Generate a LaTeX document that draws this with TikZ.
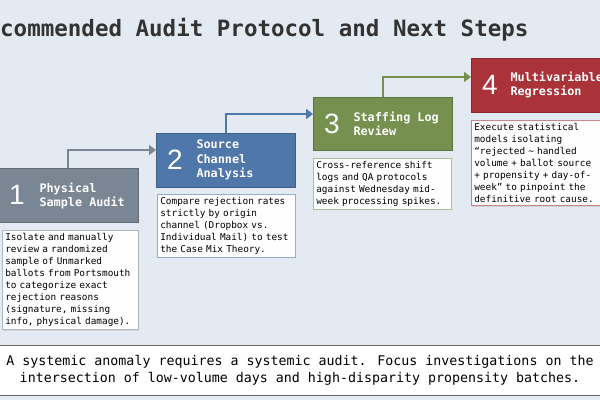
\documentclass[tikz,border=0pt]{standalone}
\usepackage{fontspec}
\setmainfont{DejaVu Sans Mono}
\newfontfamily\digitfont{Liberation Sans}
\usetikzlibrary{shadows,arrows.meta}
\definecolor{bg}{HTML}{E4EAF1}
\definecolor{cgray}{HTML}{7A8693}
\definecolor{cblue}{HTML}{4F77AA}
\definecolor{cgreen}{HTML}{76914F}
\definecolor{cred}{HTML}{A93339}
\begin{document}
\begin{tikzpicture}[x=1pt,y=1pt,
  head/.style={draw=#1!80!black,fill=#1,line width=0.6pt,drop shadow={opacity=0.25,shadow xshift=1pt,shadow yshift=-1pt}},
  desc/.style={draw=#1,line width=0.6pt,fill=white!96!bg,anchor=north west,align=left,inner sep=3pt,font=\fontsize{9.4}{12}\selectfont,drop shadow={opacity=0.2,shadow xshift=1pt,shadow yshift=-1pt}},
  htxt/.style={text=white!92!bg,anchor=west,align=left,font=\bfseries\fontsize{11.8}{14.5}\selectfont},
  dig/.style={text=white!85!bg,anchor=center,font=\digitfont\fontsize{28}{28}\selectfont},
  conn/.style={draw=#1,line width=2pt,-{Triangle[length=7pt,width=10pt]}}]
\useasboundingbox (0,0) rectangle (600,400);
\fill[bg] (0,0) rectangle (600,400);
\node[anchor=west,inner sep=0pt,font=\fontsize{22.5}{24}\selectfont,text=black!80] (title) at (0,370) {\textbf{commended Audit Protocol and Next Steps}};
% headers
\node[head=cgray,minimum width=140,minimum height=54,anchor=north west] (h1) at (-2,232) {};
\node[head=cblue,minimum width=139,minimum height=54,anchor=north west] (h2) at (156,267) {};
\node[head=cgreen,minimum width=139,minimum height=53,anchor=north west] (h3) at (313,303) {};
\node[head=cred,minimum width=135,minimum height=54,anchor=north west] (h4) at (471,342) {};
\node[dig] (d1) at (17,205) {1};
\node[dig] (d2) at (175,240) {2};
\node[dig] (d3) at (332,276) {3};
\node[dig] (d4) at (490,315) {4};
\node[htxt] (t1) at (36,204) {Physical\\Sample Audit};
\node[htxt] (t2) at (193,240) {Source\\Channel\\Analysis};
\node[htxt] (t3) at (350,276) {Staffing Log\\Review};
\node[htxt] (t4) at (507,315) {Multivariable\\Regression};
% descriptions
\node[desc=cgray!60,text width=130] (p1) at (2,170) {Isolate and manually\\review a randomized\\sample of Unmarked\\ballots from Portsmouth\\to categorize exact\\rejection reasons\\(signature, missing\\info, physical damage).};
\node[desc=cblue!60,text width=132] (p2) at (157,206) {Compare rejection rates\\strictly by origin\\channel (Dropbox vs.\\Individual Mail) to test\\the Case Mix Theory.};
\node[desc=cgreen!60,text width=132] (p3) at (313,242) {Cross-reference shift\\logs and QA protocols\\against Wednesday mid-\\week processing spikes.};
\node[desc=cred!60,text width=132] (p4) at (471,280) {Execute statistical\\models isolating\\“rejected \textasciitilde{} handled\\volume + ballot source\\+ propensity + day-of-\\week” to pinpoint the\\definitive root cause.};
% connectors
\coordinate (c1) at (68,250);
\coordinate (c2) at (226,286);
\coordinate (c3) at (383,323);
\draw[conn=cgray] (h1.north -| c1) |- (h2.west |- c1);
\draw[conn=cblue] (h2.north -| c2) |- (h3.west |- c2);
\draw[conn=cgreen] (h3.north -| c3) |- (h4.west |- c3);
% banner
\node[draw=black!60,fill=white,line width=0.6pt,minimum width=604,minimum height=50,align=center,font=\fontsize{13.3}{17}\selectfont] (ban) at (300,30) {A systemic anomaly requires a systemic audit. Focus investigations on the\\intersection of low-volume days and high-disparity propensity batches.};
\end{tikzpicture}
\end{document}
